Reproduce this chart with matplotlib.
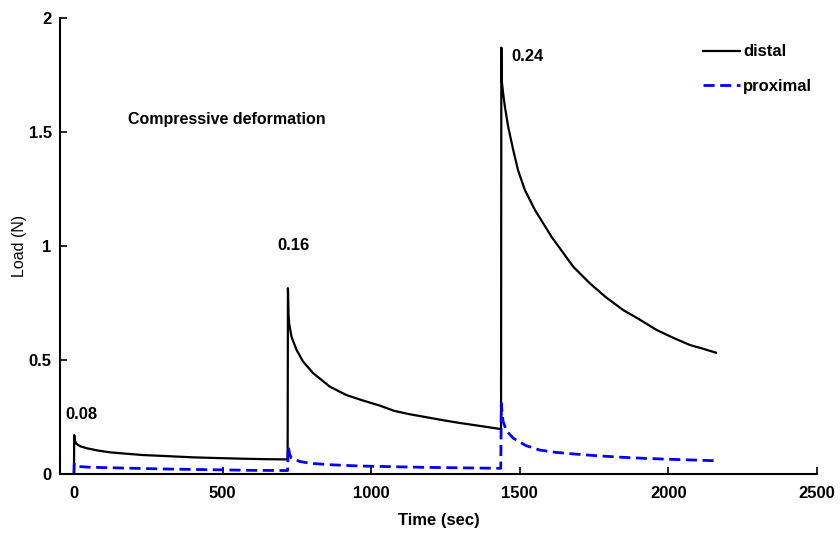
import matplotlib
matplotlib.use("Agg")
import matplotlib.pyplot as plt

# load readings (N) over time (sec), three compression steps
distal_t = [0, 1, 3, 7, 20, 43, 80, 121, 175, 233, 320, 401, 480, 569, 640, 715,
            719, 720, 722, 724, 732, 749, 771, 805, 861, 917, 973, 1029, 1077, 1130,
            1190, 1250, 1302, 1370, 1436,
            1437, 1438, 1439, 1444, 1450, 1461, 1478, 1494, 1517, 1551, 1607, 1680,
            1736, 1790, 1848, 1900, 1960, 2015, 2072, 2120, 2160]
distal_load = [0, 0.171, 0.15, 0.134, 0.122, 0.113, 0.103, 0.095, 0.089, 0.083, 0.078,
               0.073, 0.07, 0.067, 0.065, 0.064,
               0.064, 0.815, 0.70, 0.661, 0.602, 0.544, 0.493, 0.442, 0.383, 0.346,
               0.322, 0.30, 0.277, 0.262, 0.248, 0.234, 0.223, 0.21, 0.197,
               0.195, 1.87, 1.73, 1.67, 1.611, 1.523, 1.421, 1.333, 1.246, 1.158, 1.04,
               0.909, 0.836, 0.775, 0.719, 0.68, 0.632, 0.598, 0.566, 0.548, 0.532]

prox_t = [0, 1, 10, 50, 100, 200, 300, 400, 500, 600, 715,
          719, 721, 726, 732, 760, 794, 870, 962, 1070, 1186, 1300, 1427,
          1436, 1438, 1441, 1444, 1455, 1478, 1520, 1567, 1620, 1680, 1760, 1848, 1930,
          2016, 2090, 2160]
prox_load = [0, 0.045, 0.033, 0.030, 0.028, 0.025, 0.022, 0.020, 0.018, 0.016, 0.015,
             0.015, 0.12, 0.085, 0.069, 0.055, 0.047, 0.040, 0.035, 0.032, 0.029, 0.027,
             0.025,
             0.025, 0.31, 0.26, 0.23, 0.19, 0.157, 0.125, 0.105, 0.095, 0.088, 0.080,
             0.073, 0.068, 0.064, 0.061, 0.058]

step_labels = ["0.08", "0.16", "0.24"]
step_label_pos = [(-30, 0.26), (683, 1.0), (1473, 1.83)]

plt.rcParams["font.family"] = ["Liberation Sans", "DejaVu Sans"]

fig = plt.figure(figsize=(8.4, 5.36), dpi=100)
ax = fig.add_axes([0.0714, 0.1157, 0.9012, 0.8507])

ax.plot(distal_t, distal_load, color="black", lw=1.6, label="distal")
ax.plot(prox_t, prox_load, color="#0000ff", lw=2.0, ls=(0, (4, 2)), label="proximal")

for lab, (x, y) in zip(step_labels, step_label_pos):
    ax.text(x, y, lab, fontsize=12, fontweight="bold", ha="left", va="center")
ax.text(182, 1.553, "Compressive deformation", fontsize=11.5, fontweight="bold",
        ha="left", va="center")

ax.set_xlim(-47, 2500)
ax.set_ylim(0, 2)
ax.set_xticks([0, 500, 1000, 1500, 2000, 2500])
ax.set_yticks([0, 0.5, 1, 1.5, 2])
ax.set_yticklabels(["0", "0.5", "1", "1.5", "2"])
ax.tick_params(direction="in", length=5, width=1.2, labelsize=12)
ax.tick_params(axis="x", pad=9)
ax.tick_params(axis="y", pad=6)
for lbl in ax.get_xticklabels() + ax.get_yticklabels():
    lbl.set_fontweight("bold")

ax.spines["top"].set_visible(False)
ax.spines["right"].set_visible(False)
ax.spines["left"].set_linewidth(1.5)
ax.spines["bottom"].set_linewidth(1.5)

ax.set_xlabel("Time (sec)", fontsize=12, fontweight="bold")
ax.xaxis.set_label_coords(0.5, -0.085)
ax.set_ylabel("Load (N)", fontsize=11.5)
ax.yaxis.set_label_coords(-0.044, 0.5)

ax.legend(loc="upper left", bbox_to_anchor=(0.83, 0.975), frameon=False,
          handlelength=2.2, handletextpad=0.2, labelspacing=1.15,
          prop={"size": 12, "weight": "bold"})

fig.savefig("out.png", dpi=100)
